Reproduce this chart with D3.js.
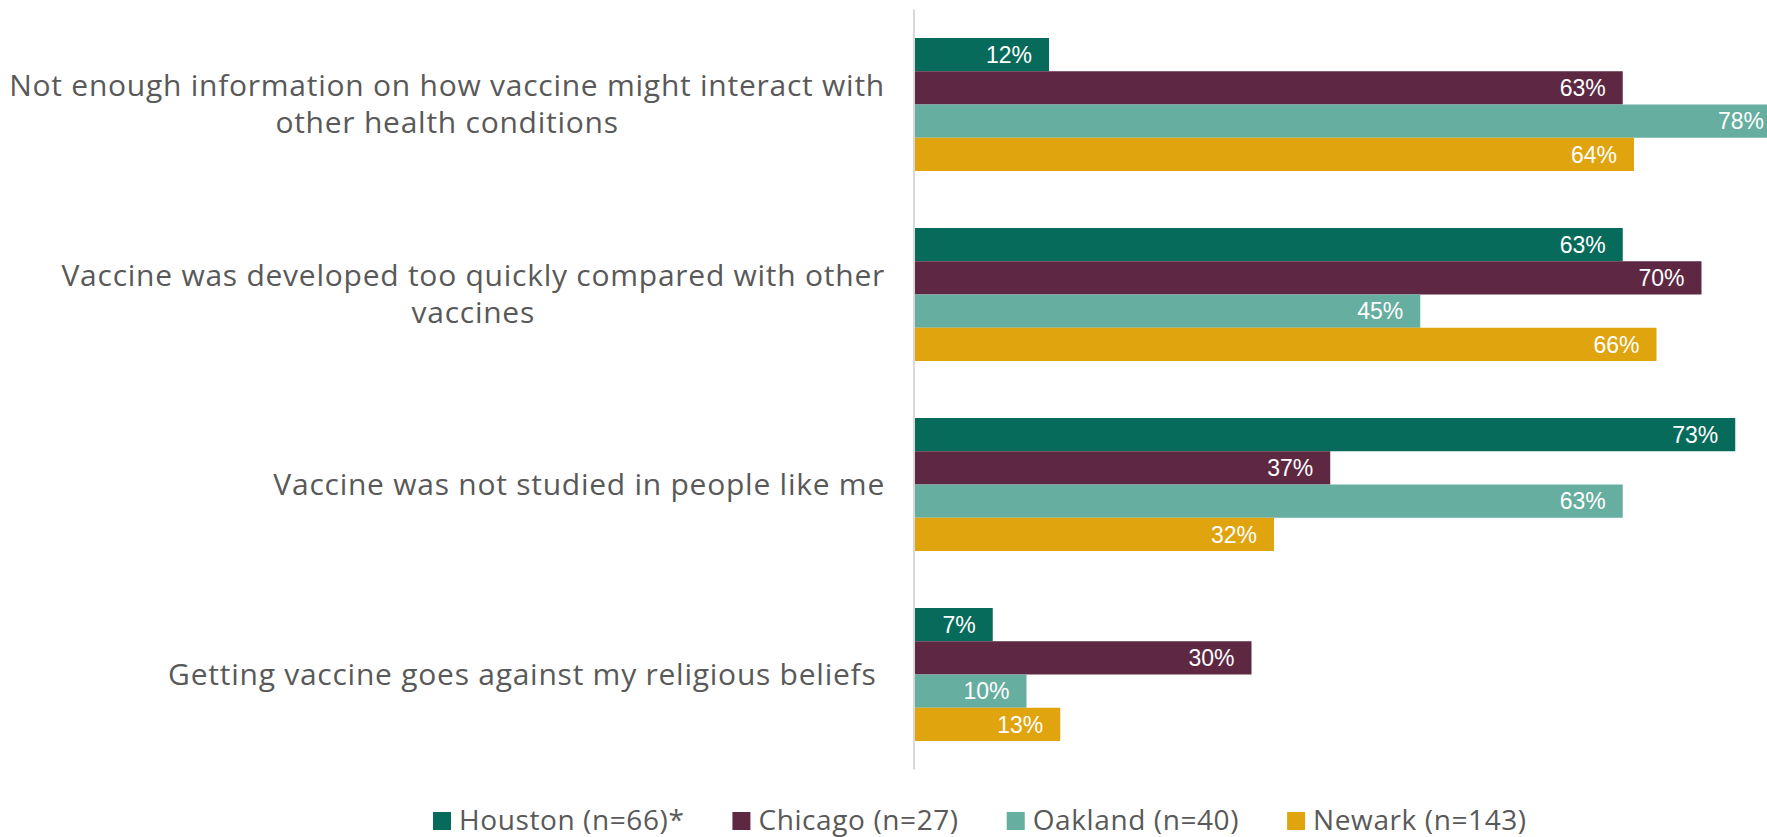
<!DOCTYPE html>
<html>
<head>
<meta charset="utf-8">
<script src="https://cdn.jsdelivr.net/npm/d3@7"></script>
<style>
  body { margin: 0; background: #fff; }
  svg { display: block; }
</style>
</head>
<body>
<div id="chart"></div>
<script>
// DATA
const categories = [
  'Not enough information on how vaccine might interact with\nother health conditions',
  'Vaccine was developed too quickly compared with other\nvaccines',
  'Vaccine was not studied in people like me',
  'Getting vaccine goes against my religious beliefs '
]
const series = ['Houston (n=66)*', 'Chicago (n=27)', 'Oakland (n=40)', 'Newark (n=143)']
const houston = [12, 63, 73, 7]
const chicago = [63, 70, 37, 30]
const oakland = [78, 45, 63, 10]
const newark = [64, 66, 32, 13]
const colors = ['#076b5c', '#5e2843', '#66ae9f', '#e0a40e']

const values = [houston, chicago, oakland, newark]

// SIZING
var width = 1767
var height = 837
var labelRight = 885
var labelFont = '"Open Sans", Lato, sans-serif'

var svg = d3.select('#chart')
  .append('svg')
  .attr('width', width)
  .attr('height', height)

// SCALES
var x = d3.scaleLinear().domain([0, 80]).range([914, 1814])
var y = d3.scaleBand().domain(categories).range([9.5, 769.5]).paddingInner(0.3).paddingOuter(0.15)
var ySub = d3.scaleBand().domain(series).range([0, y.bandwidth()])

// BARS
var groups = svg.selectAll('g.group')
  .data(categories)
  .enter()
  .append('g')
  .attr('class', 'group')
  .attr('transform', function(d) { return 'translate(0,' + y(d) + ')' })

groups.each(function(cat, ci) {
  var g = d3.select(this)
  var rows = series.map(function(s, si) { return { s: s, v: values[si][ci], c: colors[si] } })
  g.selectAll('rect')
    .data(rows)
    .enter()
    .append('rect')
    .attr('x', x(0))
    .attr('y', function(d) { return ySub(d.s) })
    .attr('width', function(d) { return x(d.v) - x(0) })
    .attr('height', ySub.bandwidth())
    .attr('fill', function(d) { return d.c })
  // value labels, kept inside the visible area when the bar runs off the edge
  g.selectAll('text.val')
    .data(rows)
    .enter()
    .append('text')
    .attr('class', 'val')
    .attr('x', function(d) { return Math.min(x(d.v) - 17, width - 3) })
    .attr('y', function(d) { return ySub(d.s) + ySub.bandwidth() / 2 })
    .attr('dy', '0.36em')
    .attr('text-anchor', 'end')
    .attr('fill', '#fff')
    .style('font-family', '"Liberation Sans", Arial, sans-serif')
    .style('font-size', '23px')
    .text(function(d) { return d.v + '%' })
})

// Y-AXIS LINE
svg.append('line')
  .attr('x1', x(0)).attr('x2', x(0))
  .attr('y1', y.range()[0]).attr('y2', y.range()[1])
  .attr('stroke', '#d9d9d9')
  .attr('stroke-width', 2)

// CATEGORY LABELS
var lineHeight = 37.3
categories.forEach(function(cat) {
  var lines = cat.split('\n')
  var cy = y(cat) + y.bandwidth() / 2
  var t = svg.append('text')
    .style('font-family', labelFont)
    .style('font-size', '30px')
    .style('letter-spacing', '0.75px')
    .style('white-space', 'pre')
    .attr('fill', '#595959')
  var spans = lines.map(function(line, i) {
    return t.append('tspan')
      .attr('y', cy + 10 + (i - (lines.length - 1) / 2) * lineHeight)
      .text(line)
  })
  var maxW = d3.max(spans, function(s) { return s.node().getComputedTextLength() })
  if (lines.length > 1) {
    t.attr('text-anchor', 'middle')
    spans.forEach(function(s) { s.attr('x', labelRight - maxW / 2) })
  } else {
    t.attr('text-anchor', 'end')
    spans.forEach(function(s) { s.attr('x', labelRight) })
  }
})

// LEGEND
var legend = svg.append('g').attr('transform', 'translate(433,830)')
var lx = 0
series.forEach(function(s, i) {
  var item = legend.append('g').attr('transform', 'translate(' + lx + ',0)')
  item.append('rect')
    .attr('x', 0).attr('y', -18)
    .attr('width', 18).attr('height', 18)
    .attr('fill', colors[i])
  var t = item.append('text')
    .attr('x', 26)
    .attr('y', 0)
    .attr('fill', '#595959')
    .style('font-family', labelFont)
    .style('font-size', '28px')
    .style('letter-spacing', '0.6px')
    .text(s)
  lx += 26 + t.node().getComputedTextLength() + 48
})
</script>
</body>
</html>
